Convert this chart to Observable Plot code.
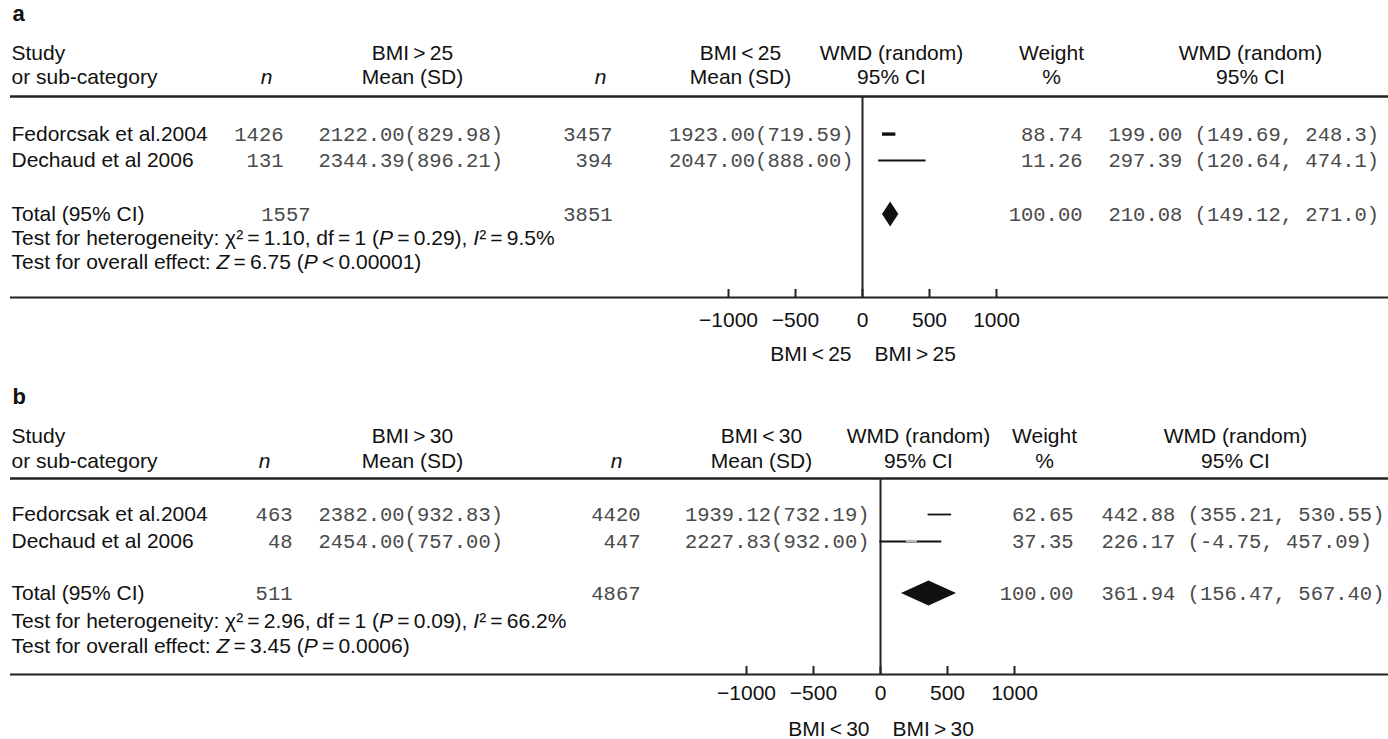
<!DOCTYPE html>
<html>
<head>
<meta charset="utf-8">
<script src="https://cdn.jsdelivr.net/npm/d3@7"></script>
<script src="https://cdn.jsdelivr.net/npm/@observablehq/plot@0.6"></script>
<style>
  html, body { margin: 0; padding: 0; background: #fff; }
  #chart { width: 1388px; height: 739px; overflow: hidden; position: relative; }
  #chart svg { display: block; }
</style>
</head>
<body>
<div id="chart"></div>
<script>
// ---------------- DATA ----------------
const studyNames = ["Fedorcsak et al.2004", "Dechaud et al 2006"];
const tickValues = [-1000, -500, 0, 500, 1000];

// Panel a: BMI > 25 vs BMI < 25
const a_nHi = [1426, 131];
const a_meanHi = [2122.00, 2344.39];
const a_sdHi = [829.98, 896.21];
const a_nLo = [3457, 394];
const a_meanLo = [1923.00, 2047.00];
const a_sdLo = [719.59, 888.00];
const a_weight = [88.74, 11.26];
const a_wmd = [199.00, 297.39];
const a_lo = [149.69, 120.64];
const a_hi = [248.3, 474.1];
const a_total = [1557, 3851, 100.00, 210.08, 149.12, 271.0]; // nHi, nLo, weight, wmd, lo, hi
const a_hiDigits = 1; // upper bounds are printed with one decimal in panel a
const a_box = [[149.69, 248.3], null];
const a_het = "Test for heterogeneity: \u03c7\u00b2\u2009=\u20091.10, df\u2009=\u20091 (_P_\u2009=\u20090.29), _I_\u00b2\u2009=\u20099.5%";
const a_overall = "Test for overall effect: _Z_\u2009=\u20096.75 (_P_\u2009<\u20090.00001)";

// Panel b: BMI > 30 vs BMI < 30
const b_nHi = [463, 48];
const b_meanHi = [2382.00, 2454.00];
const b_sdHi = [932.83, 757.00];
const b_nLo = [4420, 447];
const b_meanLo = [1939.12, 2227.83];
const b_sdLo = [732.19, 932.00];
const b_weight = [62.65, 37.35];
const b_wmd = [442.88, 226.17];
const b_lo = [355.21, -4.75];
const b_hi = [530.55, 457.09];
const b_total = [511, 4867, 100.00, 361.94, 156.47, 567.40];
const b_hiDigits = 2;
const b_box = [null, [193, 275]];
const b_het = "Test for heterogeneity: \u03c7\u00b2\u2009=\u20092.96, df\u2009=\u20091 (_P_\u2009=\u20090.09), _I_\u00b2\u2009=\u200966.2%";
const b_overall = "Test for overall effect: _Z_\u2009=\u20093.45 (_P_\u2009=\u20090.0006)";

// ---------------- LAYOUT / STYLE ----------------
const SANS = "'Liberation Sans', Arial, Helvetica, sans-serif";
const MONO = "'Liberation Mono', 'Courier New', monospace";
const MONO_FILL = "#4a4a4a";
const ML = 10;
const W = 1388;

const layoutA = {
  height: 370, zero: 862, half: 134,
  rows: {letter: 13, h1: 53, h2: 77, top: 96, s: [134, 160], total: 214, het: 238, overall: 262, axis: 297, tick: 320, dir: 354},
  cols: {study: 11, nHdr: 266, nHiR: 283, nHiTotR: 310, meanHiL: 318, hiHdr: 412, nLoHdr: 600, nLoR: 612, loHdr: 740, meanLoR: 853, wmdHdr: 891, wtHdr: 1051, wtR: 1082, ciHdr: 1250, ciL: 1108}
};
const layoutB = {
  height: 369, zero: 880, half: 134,
  rows: {letter: 26, h1: 66, h2: 91, top: 108, s: [144, 171], total: 223, het: 251, overall: 276, axis: 304, tick: 323, dir: 359},
  cols: {study: 11, nHdr: 264, nHiR: 292, nHiTotR: 292, meanHiL: 318, hiHdr: 412, nLoHdr: 616, nLoR: 640, loHdr: 761, meanLoR: 869, wmdHdr: 918, wtHdr: 1044, wtR: 1073, ciHdr: 1235, ciL: 1101}
};

const f2 = v => v.toFixed(2);

function buildPanel(P, L) {
  const R = L.rows, C = L.cols, H = L.height;
  const fh = v => v.toFixed(P.hiDigits);
  const rows = studyNames.map((name, i) => ({
    name, y: R.s[i],
    nHi: String(P.nHi[i]), meanHi: `${f2(P.meanHi[i])}(${f2(P.sdHi[i])})`,
    nLo: String(P.nLo[i]), meanLo: `${f2(P.meanLo[i])}(${f2(P.sdLo[i])})`,
    weight: f2(P.weight[i]), wmd: P.wmd[i], lo: P.lo[i], hi: P.hi[i],
    ci: `${f2(P.wmd[i])} (${f2(P.lo[i])}, ${fh(P.hi[i])})`
  }));
  const [tnHi, tnLo, tw, tWmd, tLo, tHi] = P.total;
  const boxes = P.box.map((b, i) => b && {x1: b[0], x2: b[1], y: R.s[i], i}).filter(Boolean);
  const diamond = [
    {x: tLo, y1: R.total, y2: R.total},
    {x: tWmd, y1: R.total - 12.5, y2: R.total + 12.5},
    {x: tHi, y1: R.total, y2: R.total}
  ];

  const T = (text, px, py, anchor, o = {}) => Plot.text([text], {
    text: d => d, y: () => py, frameAnchor: "left", dx: px - ML, textAnchor: anchor,
    fontFamily: SANS, fontSize: 21, fill: "#111", ...o
  });
  const monoOpts = {fontFamily: MONO, fontSize: 20.5, fill: MONO_FILL};
  const colText = (data, key, px, anchor) => Plot.text(data, {
    text: key, y: "y", frameAnchor: "left", dx: px - ML, textAnchor: anchor, ...monoOpts
  });

  const marks = [
    // panel letter
    T(P.letter, C.study + 1, R.letter, "start", {fontWeight: "bold", fontSize: 22}),
    // headers
    T("Study", C.study, R.h1, "start"),
    T("or sub-category", C.study, R.h2, "start"),
    T("n", C.nHdr, R.h2, "middle", {fontStyle: "italic"}),
    T(P.hiLabel, C.hiHdr, R.h1, "middle"),
    T("Mean (SD)", C.hiHdr, R.h2, "middle"),
    T("n", C.nLoHdr, R.h2, "middle", {fontStyle: "italic"}),
    T(P.loLabel, C.loHdr, R.h1, "middle"),
    T("Mean (SD)", C.loHdr, R.h2, "middle"),
    T("WMD (random)", C.wmdHdr, R.h1, "middle"),
    T("95% CI", C.wmdHdr, R.h2, "middle"),
    T("Weight", C.wtHdr, R.h1, "middle"),
    T("%", C.wtHdr, R.h2, "middle"),
    T("WMD (random)", C.ciHdr, R.h1, "middle"),
    T("95% CI", C.ciHdr, R.h2, "middle"),
    // rules
    Plot.ruleY([R.top], {stroke: "#222", strokeWidth: 2.5}),
    Plot.ruleY([R.axis], {stroke: "#222", strokeWidth: 2}),
    Plot.ruleX([0], {y1: R.top, y2: R.axis, stroke: "#222", strokeWidth: 2}),
    Plot.ruleX(tickValues, {x: d => d, y1: R.axis - 8, y2: R.axis + 1, stroke: "#222", strokeWidth: 2}),
    Plot.text(tickValues, {x: d => d, y: () => R.tick, text: d => (d < 0 ? "\u2212" + Math.abs(d) : String(d)),
      fontFamily: SANS, fontSize: 21, fill: "#111"}),
    Plot.text([P.loLabel], {x: () => 0, y: () => R.dir, dx: -11, textAnchor: "end", text: d => d, fontFamily: SANS, fontSize: 21, fill: "#111"}),
    Plot.text([P.hiLabel], {x: () => 0, y: () => R.dir, dx: 12, textAnchor: "start", text: d => d, fontFamily: SANS, fontSize: 21, fill: "#111"}),
    // study rows
    Plot.text(rows, {text: "name", y: "y", frameAnchor: "left", dx: C.study - ML, textAnchor: "start", fontFamily: SANS, fontSize: 21, fill: "#111"}),
    colText(rows, "nHi", C.nHiR, "end"),
    colText(rows, "meanHi", C.meanHiL, "start"),
    colText(rows, "nLo", C.nLoR, "end"),
    colText(rows, "meanLo", C.meanLoR, "end"),
    colText(rows, "weight", C.wtR, "end"),
    colText(rows, "ci", C.ciL, "start"),
    // CI lines and boxes
    Plot.ruleY(rows, {x1: "lo", x2: "hi", y: "y", stroke: "#111", strokeWidth: 1.8}),
    Plot.rect(boxes, {x1: "x1", x2: "x2", y1: d => d.y - (d.i === 0 ? 1.6 : 1.2), y2: d => d.y + (d.i === 0 ? 1.6 : 1.2),
      fill: d => (d.i === 0 ? "#111" : "#bdbdbd")}),
    // total row
    T("Total (95% CI)", C.study, R.total, "start"),
    T(String(tnHi), C.nHiTotR, R.total, "end", monoOpts),
    T(String(tnLo), C.nLoR, R.total, "end", monoOpts),
    T(f2(tw), C.wtR, R.total, "end", monoOpts),
    T(`${f2(tWmd)} (${f2(tLo)}, ${fh(tHi)})`, C.ciL, R.total, "start", monoOpts),
    Plot.areaY(diamond, {x: "x", y1: "y1", y2: "y2", fill: "#111"}),
    // tests
    T(P.het, C.study, R.het, "start"),
    T(P.overall, C.study, R.overall, "start")
  ];

  const svg = Plot.plot({
    width: W, height: H,
    marginLeft: ML, marginRight: 0, marginTop: 0, marginBottom: 0,
    x: {domain: [-1000, 1000], range: [L.zero - L.half, L.zero + L.half], axis: null},
    y: {domain: [0, H], range: [0, H], axis: null},
    style: {background: "#fff", overflow: "hidden"},
    marks
  });
  // italic segments marked with _..._
  svg.querySelectorAll("text").forEach(t => {
    const s = t.textContent;
    if (!s.includes("_")) return;
    t.textContent = "";
    s.split("_").forEach((p, i) => {
      if (!p) return;
      const ts = document.createElementNS("http://www.w3.org/2000/svg", "tspan");
      if (i % 2 === 1) ts.setAttribute("font-style", "italic");
      ts.textContent = p;
      t.appendChild(ts);
    });
  });
  return svg;
}

const panelA = {letter: "a", hiLabel: "BMI\u2009>\u200925", loLabel: "BMI\u2009<\u200925",
  nHi: a_nHi, meanHi: a_meanHi, sdHi: a_sdHi, nLo: a_nLo, meanLo: a_meanLo, sdLo: a_sdLo,
  weight: a_weight, wmd: a_wmd, lo: a_lo, hi: a_hi, total: a_total, hiDigits: a_hiDigits, box: a_box, het: a_het, overall: a_overall};
const panelB = {letter: "b", hiLabel: "BMI\u2009>\u200930", loLabel: "BMI\u2009<\u200930",
  nHi: b_nHi, meanHi: b_meanHi, sdHi: b_sdHi, nLo: b_nLo, meanLo: b_meanLo, sdLo: b_sdLo,
  weight: b_weight, wmd: b_wmd, lo: b_lo, hi: b_hi, total: b_total, hiDigits: b_hiDigits, box: b_box, het: b_het, overall: b_overall};

const chart = document.getElementById("chart");
chart.appendChild(buildPanel(panelA, layoutA));
chart.appendChild(buildPanel(panelB, layoutB));
</script>
</body>
</html>
